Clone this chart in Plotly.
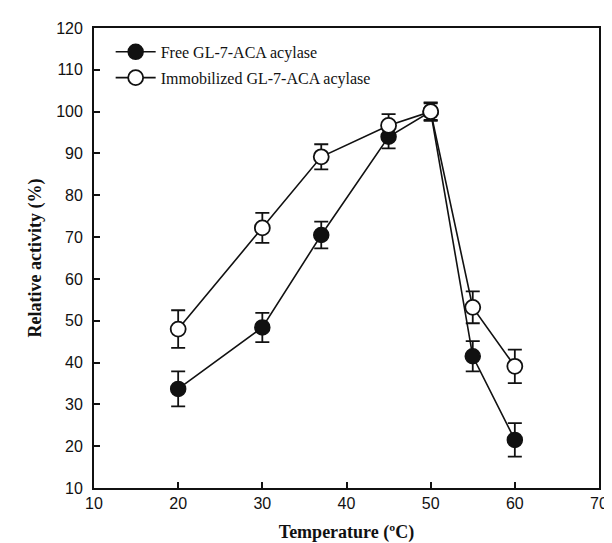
import plotly.graph_objects as go

temperature = [20, 30, 37, 45, 50, 55, 60]
free_activity = [33.7, 48.4, 70.5, 94.0, 100.0, 41.5, 21.5]
free_error = [4.2, 3.5, 3.2, 2.8, 2.0, 3.6, 4.0]
immob_activity = [48.0, 72.2, 89.2, 96.7, 100.0, 53.2, 39.1]
immob_error = [4.5, 3.6, 3.0, 2.7, 2.2, 3.8, 4.0]

series_names = ["Free GL-7-ACA acylase", "Immobilized GL-7-ACA acylase"]
x_ticks = [10, 20, 30, 40, 50, 60, 70]
y_ticks = [10, 20, 30, 40, 50, 60, 70, 80, 90, 100, 110, 120]

fig = go.Figure()

fig.add_trace(go.Scatter(
    x=temperature, y=free_activity, name=series_names[0], legendgroup="a",
    mode="lines+markers",
    line=dict(color="#111111", width=1.6),
    marker=dict(symbol="circle", size=15, color="#111111", line=dict(color="#111111", width=1.5)),
    error_y=dict(type="data", array=free_error, color="#111111", thickness=1.8, width=7),
))
fig.add_trace(go.Scatter(
    x=temperature, y=immob_activity, name=series_names[1], legendgroup="b",
    mode="lines+markers",
    line=dict(color="#111111", width=1.6),
    marker=dict(symbol="circle", size=15, color="white", line=dict(color="#111111", width=1.8)),
    error_y=dict(type="data", array=immob_error, color="#111111", thickness=1.8, width=7),
))

fig.update_layout(
    width=612, height=543,
    margin=dict(l=86, r=12, t=20, b=61),
    paper_bgcolor="white", plot_bgcolor="white",
    showlegend=True,
    legend=dict(
        x=0.033, y=0.985, xanchor="left", yanchor="top",
        bgcolor="rgba(0,0,0,0)",
        font=dict(family="Liberation Serif", size=16, color="#111111"),
        tracegroupgap=2,
        itemwidth=40,
    ),
    xaxis=dict(
        range=[10, 70], tickvals=x_ticks, ticktext=[str(v) for v in x_ticks],
        ticks="inside", ticklen=6, tickwidth=1.5, tickcolor="#111111",
        showline=True, linecolor="#111111", linewidth=1.8, mirror=True,
        showgrid=False, zeroline=False,
        tickfont=dict(family="Liberation Sans", size=16, color="#111111"),
        title=dict(text="Temperature (ºC)", standoff=14,
                   font=dict(family="Liberation Serif", size=18, color="#111111", weight="bold")),
    ),
    yaxis=dict(
        range=[10, 120], tickvals=y_ticks, ticktext=[str(v) for v in y_ticks],
        ticks="inside", ticklen=6, tickwidth=1.5, tickcolor="#111111",
        showline=True, linecolor="#111111", linewidth=1.8, mirror=True,
        showgrid=False, zeroline=False, ticklabelstandoff=6,
        tickfont=dict(family="Liberation Sans", size=16, color="#111111"),
        title=dict(text="Relative activity (%)", standoff=10,
                   font=dict(family="Liberation Serif", size=18, color="#111111", weight="bold")),
    ),
)

fig.write_html("out.html")
